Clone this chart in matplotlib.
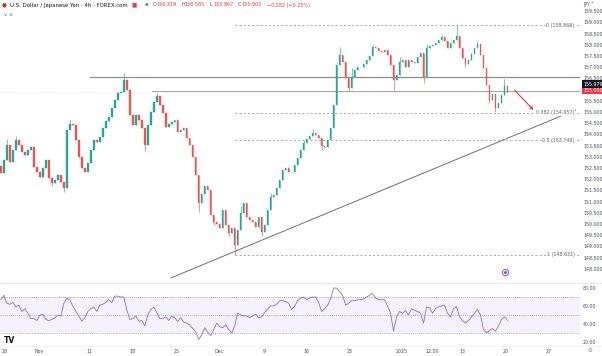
import numpy as np
import matplotlib.pyplot as plt

closes = [152.28, 152.86, 153.53, 152.77, 153.30, 153.75, 153.53, 153.21, 153.08, 153.30,
          153.44, 152.54, 152.32, 152.10, 152.50, 152.86, 152.05, 151.83, 151.96, 152.19,
          151.88, 151.61, 154.20, 154.46, 154.42, 153.75, 152.99, 152.50, 152.32, 152.72,
          153.30, 153.75, 153.66, 153.88, 154.29, 154.60, 154.78, 155.18, 155.54, 155.85,
          155.89, 156.43, 155.98, 154.87, 154.42, 154.87, 154.64, 154.29, 153.53, 154.42,
          155.00, 155.45, 155.71, 155.31, 154.96, 154.33, 154.46, 154.55, 154.64, 154.11,
          154.20, 154.29, 153.84, 153.53, 152.99, 152.19, 150.94, 151.34, 151.70, 151.52,
          150.40, 150.09, 150.00, 149.82, 150.63, 149.96, 149.60, 149.82, 149.06, 149.73,
          150.49, 150.94, 150.31, 150.18, 150.09, 149.87, 150.31, 149.64, 149.96, 150.63,
          151.21, 151.29, 151.61, 151.96, 152.41, 152.50, 152.32, 152.32, 152.63, 152.95,
          153.30, 153.62, 153.79, 153.93, 154.06, 153.97, 153.84, 153.48, 153.44, 153.75,
          154.29, 155.31, 157.10, 157.54, 157.23, 156.52, 156.07, 156.56, 156.88, 157.01,
          157.01, 157.14, 157.32, 157.50, 157.90, 157.86, 157.72, 157.68, 157.77, 157.54,
          157.10, 156.43, 156.65, 157.23, 157.32, 157.01, 157.32, 157.23, 157.19, 157.46,
          157.63, 156.56, 157.86, 157.95, 157.99, 158.08, 158.21, 158.35, 158.17, 157.86,
          158.08, 158.21, 158.39, 157.86, 157.41, 157.14, 157.32, 157.59, 157.86, 158.04,
          157.54, 156.96, 156.21, 155.54, 155.80, 155.18, 155.40, 155.76, 156.16, 155.90]
first_open = 152.60

# visible wicks (bar index -> price)
wick_hi = {2: 153.80, 5: 153.95, 23: 154.65, 41: 156.72, 52: 155.85, 80: 150.80,
           90: 151.40, 101: 153.75, 104: 154.25, 113: 157.90, 117: 156.95, 124: 158.00,
           133: 157.45, 142: 158.05, 147: 158.45, 152: 158.87, 159: 158.15, 168: 156.47}
wick_lo = {17: 151.70, 21: 151.45, 48: 153.25, 66: 150.55, 71: 149.95, 76: 149.45,
           78: 148.63, 87: 149.45, 107: 153.30, 116: 155.95, 131: 156.00, 141: 156.30,
           155: 157.00, 163: 155.40, 165: 154.98}

rsi = [67, 72, 63, 62, 64, 59, 61, 54, 57, 52,
       46, 46, 44, 50, 51, 45, 44, 45, 47, 50,
       49, 63, 69, 67, 60, 54, 49, 43, 47, 54,
       57, 59, 54, 61, 62, 64, 67, 64, 71, 71,
       70, 70, 56, 45, 46, 49, 43, 44, 38, 50,
       56, 59, 53, 46, 46, 48, 44, 49, 47, 43,
       47, 42, 41, 39, 35, 31, 23, 28, 36, 31,
       27, 34, 41, 37, 36, 39, 34, 30, 38, 52,
       50, 49, 49, 47, 49, 51, 47, 48, 53, 57,
       60, 60, 62, 66, 66, 65, 63, 56, 60, 66,
       69, 70, 67, 69, 70, 70, 64, 54, 57, 61,
       68, 80, 80, 76, 72, 61, 63, 66, 66, 67,
       67, 68, 70, 72, 74, 69, 67, 67, 67, 60,
       52, 32, 48, 54, 52, 55, 50, 57, 55, 54,
       52, 41, 59, 58, 52, 57, 59, 60, 61, 52,
       48, 57, 59, 48, 44, 41, 44, 48, 52, 56,
       50, 34, 30, 33, 35, 32, 38, 45, 48, 44]

# drawings
res_levels = [156.56, 155.94]
res_start = [29.7, 50.5]
fib_ratios = ['0', '0.382', '0.5', '1']
fib_levels = [158.868, 154.957, 153.749, 148.631]
trend_x = [56.7, 191.7]
trend_y = [147.59, 155.09]
arrow_from = (170.7, 156.07)
arrow_to = (178.3, 155.00)
last_alt = '155.979'

tick_pos = [1.3, 12.7, 29.7, 44, 58.7, 72.7, 87.7, 102, 116.3, 133.7, 144, 154, 168.3, 182.7]
tick_labels = ['28', 'Nov', '11', '18', '25', 'Dec', '9', '16', '23', '2025', '12:00', '13', '20', '27']

GREEN = '#26a69a'
RED = '#ef5350'
PURPLE = '#7e57c2'
TXT = '#4a4e59'
FS = 3.4

W, H = 602, 356
fig = plt.figure(figsize=(W / 100, H / 100), dpi=100)
fig.patch.set_facecolor('white')

ax = fig.add_axes([0, 1 - 282 / H, 580 / W, 282 / H])
ax2 = fig.add_axes([0, 1 - 345 / H, 580 / W, 62 / H], sharex=ax)

closes = np.array(closes)
n = len(closes)
x = np.arange(n)
opens = np.concatenate([[first_open], closes[:-1]])
highs = np.maximum(opens, closes)
lows = np.minimum(opens, closes)
for k, v in wick_hi.items():
    highs[k] = max(highs[k], v)
for k, v in wick_lo.items():
    lows[k] = min(lows[k], v)
up = closes >= opens
cols = np.where(up, GREEN, RED)

ax.vlines(x, lows, highs, colors=cols, lw=0.45, zorder=3)
ax.bar(x, np.abs(closes - opens), bottom=np.minimum(opens, closes), width=0.5,
       color=cols, edgecolor=cols, linewidth=0.25, zorder=4)

xmax = 193.2
ax.set_xlim(-0.3, xmax)
ax.set_ylim(147.41, 160.0)

# horizontal levels
for lvl, st, c, lw in zip(res_levels, res_start, ['#8f8f8f', '#a8a8a8'], [0.9, 0.7]):
    ax.plot([st, xmax], [lvl, lvl], color=c, lw=lw, zorder=2)
ax.axhline(closes[-1], color=RED, lw=0.4, alpha=0.35, ls=(0, (1, 1)), zorder=1)

# fibonacci retracement
fib_start = int(np.argmin(lows))
for r, lvl in zip(fib_ratios, fib_levels):
    ax.plot([fib_start, xmax], [lvl, lvl], color='#8a8a8a', lw=0.5, ls=(0, (3, 3)), zorder=2)
    ax.text(191.4, lvl, f'{r} ({lvl:.3f})', fontsize=FS, color='#5d606b', ha='right', va='center',
            bbox=dict(facecolor='white', edgecolor='none', pad=0.6), zorder=5)

# trend line and arrow
ax.plot(trend_x, trend_y, color='#6f6f6f', lw=0.7, zorder=2)
ax.annotate('', xy=arrow_to, xytext=arrow_from,
            arrowprops=dict(arrowstyle='->', color='#f23645', lw=0.8, mutation_scale=5))
ax.plot([168.3], [147.86], marker='o', ms=4.5, mfc='white', mec=PURPLE, mew=0.7)
ax.plot([168.3], [147.86], marker='o', ms=1.2, color=PURPLE)

# price scale
ax.yaxis.tick_right()
ticks = np.arange(148.0, 159.51, 0.5)
ax.set_yticks(ticks)
ax.set_yticklabels([f'{t:.3f}' for t in ticks])
ax.tick_params(axis='y', length=0, pad=2.2, labelsize=FS, labelcolor=TXT)
ax.tick_params(axis='x', length=0, labelbottom=False)
for s in ax.spines.values():
    s.set_visible(False)

ax.annotate(f'{closes[-1]:.3f}', xy=(1, closes[-1]), xycoords=('axes fraction', 'data'),
            xytext=(2.2, 1.2), textcoords='offset points', fontsize=FS, color='white',
            va='center', ha='left',
            bbox=dict(facecolor='#f23645', edgecolor='none', pad=0.8))
ax.annotate(last_alt, xy=(1, closes[-1]), xycoords=('axes fraction', 'data'),
            xytext=(2.2, 5.6), textcoords='offset points', fontsize=FS, color='white',
            va='center', ha='left',
            bbox=dict(facecolor='#131722', edgecolor='none', pad=0.8))

# RSI pane
ax2.axhspan(30, 70, color=PURPLE, alpha=0.08, lw=0)
for lvl in [70, 50, 30]:
    ax2.axhline(lvl, color='#9a96b8', lw=0.5, ls=(0, (1.5, 1.5)))
ax2.plot(x, rsi, color=PURPLE, lw=0.6, alpha=0.85)
ax2.set_ylim(16.7, 85.6)
ax2.yaxis.tick_right()
ax2.set_yticks([20, 40, 60, 80])
ax2.set_yticklabels(['20.00', '40.00', '60.00', '80.00'])
ax2.tick_params(axis='y', length=0, pad=2.2, labelsize=FS, labelcolor=TXT)
ax2.set_xticks(tick_pos)
ax2.set_xticklabels(tick_labels)
ax2.tick_params(axis='x', length=0, pad=3.2, labelsize=FS, labelcolor=TXT)
for s in ax2.spines.values():
    s.set_visible(False)
ax2.text(0.006, 0.0, 'TV', transform=ax2.transAxes, fontsize=5.5, fontweight='heavy',
         color='#131722', ha='left', va='bottom')

# pane separators
fig.add_artist(plt.Line2D([0, 1], [1 - 282.5 / H, 1 - 282.5 / H], color='#e0e3eb', lw=0.6))
fig.add_artist(plt.Line2D([0, 1], [1 - 346 / H, 1 - 346 / H], color='#eceef2', lw=0.5))

# header
ty = 1 - 5 / H
fig.text(2 / W, ty, '●', fontsize=4, color='#d32f2f', va='center', ha='left')
fig.text(10 / W, ty, 'U.S. Dollar / Japanese Yen · 4h · FOREX.com', fontsize=3.9,
         color='#131722', va='center', ha='left')
fig.text(131 / W, ty, '■', fontsize=4, color='#f23645', va='center', ha='left')
fig.text(145 / W, ty, '●', fontsize=3, color=GREEN, va='center', ha='left')
parts = [('O', '156.319', 153), ('H', '156.585', 181), ('L', '155.867', 210), ('C', '155.903', 238)]
for lab, val, px in parts:
    fig.text(px / W, ty, lab, fontsize=3.5, color=TXT, va='center', ha='left')
    fig.text((px + 3.5) / W, ty, val, fontsize=3.5, color='#f23645', va='center', ha='left')
fig.text(267 / W, ty, '\u22120.282 (\u22120.25%)', fontsize=3.5, color='#f23645', va='center', ha='left')
fig.text(4 / W, 1 - 15 / H, '\u2228  6', fontsize=3.2, color=TXT, va='center', ha='left')
fig.text(583 / W, 1 - 4 / H, 'JPY \u02c5', fontsize=3.3, color=TXT, va='center', ha='left')
fig.text(590 / W, 1 - 351 / H, '\u2699', fontsize=4, color='#787b86', va='center', ha='center')

fig.savefig('out.png', dpi=100, facecolor='white')
